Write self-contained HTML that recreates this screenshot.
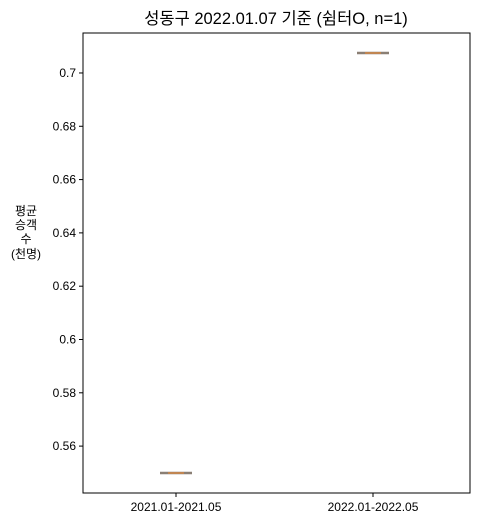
<!DOCTYPE html>
<html><head><meta charset="utf-8"><style>
body{margin:0;background:#fff;}
svg text{font-family:"Liberation Sans","Noto Sans CJK KR",sans-serif;fill:#000;}
</style></head><body>
<svg id="chart" width="479" height="527" xmlns="http://www.w3.org/2000/svg">
<text x="276" y="24" font-size="16.5" text-anchor="middle">성동구 2022.01.07 기준 (쉼터O, n=1)</text>
<g font-size="12" text-anchor="middle">
<text x="26" y="215">평균</text><text x="26" y="229">승객</text><text x="26" y="243">수</text><text x="26" y="258">(천명)</text>
</g>
<g id="plot"></g>
<rect x="83" y="33" width="387" height="460" fill="none" stroke="#000" stroke-width="1"/>
</svg>
<script>
const categories = ["2021.01-2021.05", "2022.01-2022.05"];
const values = [0.5499, 0.7075];
const yTicks = [0.56, 0.58, 0.6, 0.62, 0.64, 0.66, 0.68, 0.7];
const yTickLabels = ["0.56", "0.58", "0.6", "0.62", "0.64", "0.66", "0.68", "0.7"];
const L=83,R=470,T=33,B=493, yMin=0.5424, yMax=0.715;
const y=v=>B-(v-yMin)/(yMax-yMin)*(B-T);
const xPos=i=>176+i*197;
const NS="http://www.w3.org/2000/svg", g=document.getElementById('plot');
function mk(t,a){const e=document.createElementNS(NS,t);for(const k in a)e.setAttribute(k,a[k]);g.appendChild(e);return e;}
yTicks.forEach((v,i)=>{
 const l=mk('line',{x1:L-4,x2:L,y1:y(v),y2:y(v),stroke:'#000'});
 
 
 const t=mk('text',{x:L-7,y:y(v)+4,'font-size':12,'text-anchor':'end'});
 t.textContent=yTickLabels[i];
 
 
});
categories.forEach((c,i)=>{
 const xc = xPos(i);
 const l=mk('line',{x1:xc,x2:xc,y1:B,y2:B+4,stroke:'#000'});
 
 
 const t=mk('text',{x:xc,y:B+18,'font-size':12,'text-anchor':'middle'});
 t.textContent=c;
 
 
 const yy=y(values[i]);
 const box=mk('line',{x1:xc-16,x2:xc+16,y1:yy,y2:yy,stroke:'#8a7f74','stroke-width':2.5});
 
 
 const med=mk('line',{x1:xc-8,x2:xc+8,y1:yy,y2:yy,stroke:'#e58a3a','stroke-width':1.2});
 
 
});
</script>
</body></html>
